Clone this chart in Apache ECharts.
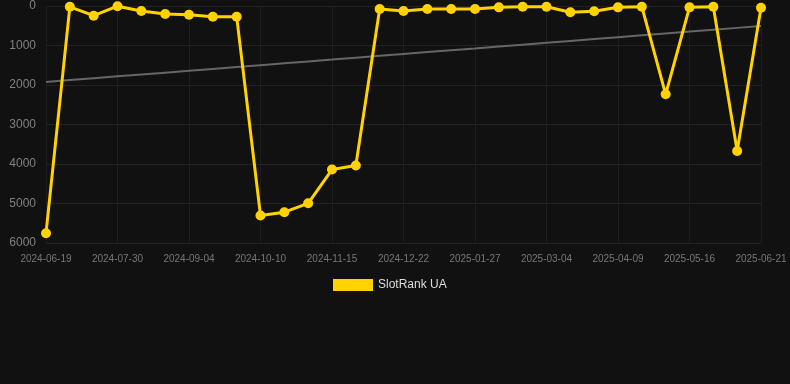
<!DOCTYPE html>
<html>
<head>
<meta charset="utf-8">
<script src="https://cdn.jsdelivr.net/npm/echarts@6/dist/echarts.min.js"></script>
<style>
  html, body { margin: 0; padding: 0; background: #111111; }
  #chart { width: 790px; height: 384px; }
</style>
</head>
<body>
<div id="chart"></div>
<script>
// 日期（约每12天一个点）
var dates = [
  '2024-06-19', '2024-07-03', '2024-07-17', '2024-07-30', '2024-08-11', '2024-08-23',
  '2024-09-04', '2024-09-16', '2024-09-28', '2024-10-10', '2024-10-22', '2024-11-03',
  '2024-11-15', '2024-11-27', '2024-12-10', '2024-12-22', '2025-01-03', '2025-01-15',
  '2025-01-27', '2025-02-08', '2025-02-20', '2025-03-04', '2025-03-16', '2025-03-28',
  '2025-04-09', '2025-04-21', '2025-05-04', '2025-05-16', '2025-05-28', '2025-06-09',
  '2025-06-21'
];
// 排名
var ranks = [
  5755, 20, 245, 5, 127, 203,
  220, 270, 270, 5305, 5220, 4995,
  4140, 4040, 76, 127, 76, 76,
  76, 34, 17, 17, 160, 135,
  34, 17, 2235, 34, 17, 3670,
  43
];
var seriesName = 'SlotRank UA';
var yTicks = [0, 1000, 2000, 3000, 4000, 5000, 6000];

// 线性趋势
function trend(values) {
  var n = values.length, sx = 0, sy = 0, sxy = 0, sxx = 0;
  values.forEach(function (v, i) {
    sx += i; sy += v; sxy += i * v; sxx += i * i;
  });
  var k = (n * sxy - sx * sy) / (n * sxx - sx * sx);
  var b = (sy - k * sx) / n;
  return values.map(function (v, i) { return +(k * i + b).toFixed(1); });
}

var chart = echarts.init(document.getElementById('chart'));
var option = {
  backgroundColor: '#111111',
  animation: false,
  grid: { left: 46, right: 29, top: 6, bottom: 141 },
  legend: {
    top: 274,
    left: 328,
    itemWidth: 40,
    itemHeight: 12,
    itemGap: 10,
    icon: 'rect',
    textStyle: { color: '#dddddd', fontSize: 12, fontFamily: 'Liberation Sans, Arial, sans-serif' },
    data: [seriesName]
  },
  xAxis: {
    type: 'category',
    boundaryGap: false,
    data: dates,
    axisLine: { show: false },
    axisTick: { show: false },
    axisLabel: {
      interval: 2,
      color: '#777777',
      fontSize: 10,
      margin: 11,
      fontFamily: 'Liberation Sans, Arial, sans-serif'
    },
    splitLine: { show: true, interval: 2, lineStyle: { color: '#1e1e1e', width: 1 } }
  },
  yAxis: {
    type: 'value',
    inverse: true,
    min: yTicks[0],
    max: yTicks[yTicks.length - 1],
    interval: 1000,
    axisLine: { show: false },
    axisTick: { show: false },
    axisLabel: {
      color: '#808080',
      fontSize: 12,
      margin: 10,
      formatter: function (v) { return String(v); },
      fontFamily: 'Liberation Sans, Arial, sans-serif'
    },
    splitLine: { lineStyle: { color: '#222222', width: 1 } }
  },
  series: [{
    name: 'trend',
    type: 'line',
    data: trend(ranks),
    showSymbol: false,
    symbol: 'none',
    lineStyle: { color: '#666666', width: 2 },
    z: 1
  }, {
    name: seriesName,
    type: 'line',
    data: ranks,
    symbol: 'circle',
    symbolSize: 10,
    itemStyle: { color: '#ffd200' },
    lineStyle: { color: '#ffd200', width: 3 },
    z: 3
  }]
};
chart.setOption(option);
</script>
</body>
</html>
